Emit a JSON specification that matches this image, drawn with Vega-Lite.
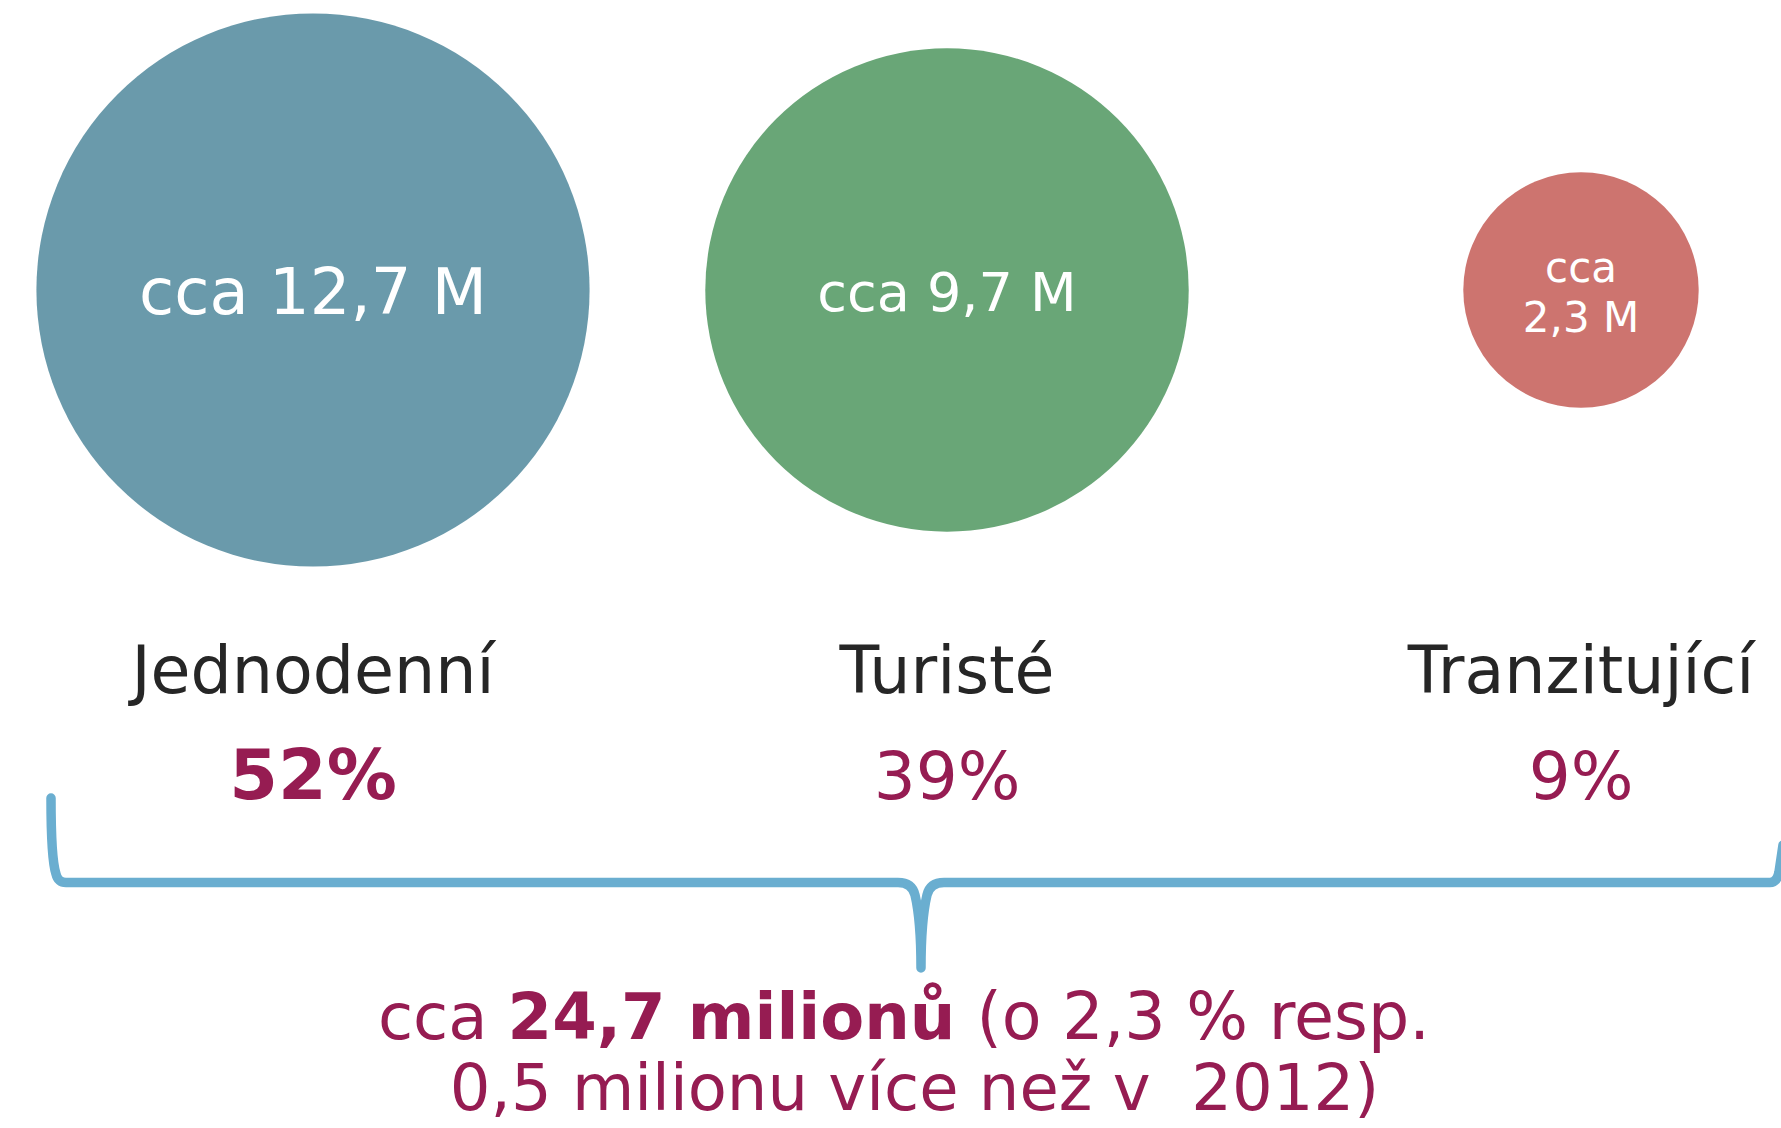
{
  "$schema": "https://vega.github.io/schema/vega-lite/v6.json",
  "width": 1781,
  "height": 1128,
  "autosize": {"type": "none"},
  "padding": 0,
  "background": "white",
  "config": {"view": {"stroke": null}, "font": "DejaVu Sans"},
  "datasets": {
    "kategorie": [
      {"kategorie": "Jednodenní", "mil": 12.7, "popisek": ["cca 12,7 M"], "podil": "52%"},
      {"kategorie": "Turisté", "mil": 9.7, "popisek": ["cca 9,7 M"], "podil": "39%"},
      {"kategorie": "Tranzitující", "mil": 2.3, "popisek": ["cca", "2,3 M"], "podil": "9%"}
    ],
    "celkem": [
      {"cca": "cca", "celkem": "24,7 milionů", "zbytek": "(o 2,3 % resp.", "radek2": "0,5 milionu více než v\u00a0 2012)"}
    ]
  },
  "layer": [
    {
      "data": {"name": "kategorie"},
      "mark": {"type": "point", "shape": "circle", "filled": true, "opacity": 1, "strokeWidth": 0, "yOffset": -274},
      "encoding": {
        "x": {"field": "kategorie", "type": "nominal", "axis": null, "scale": {"type": "point", "domain": ["Jednodenní", "Turisté", "Tranzitující"], "range": [313, 1581], "padding": 0}},
        "size": {"field": "mil", "type": "quantitative", "legend": null, "scale": {"domain": [0, 12.7], "range": [0, 306000], "zero": true}},
        "color": {"field": "kategorie", "type": "nominal", "legend": null, "scale": {"domain": ["Jednodenní", "Turisté", "Tranzitující"], "range": ["#6a9aab", "#69a677", "#cd746f"]}}
      }
    },
    {
      "data": {"name": "kategorie"},
      "transform": [{"filter": "datum.kategorie !== 'Tranzitující'"}],
      "mark": {"type": "text", "color": "#ffffff", "align": "center", "baseline": "middle", "dy": -269, "lineHeight": 50, "font": "DejaVu Sans"},
      "encoding": {
        "x": {"field": "kategorie", "type": "nominal", "axis": null, "scale": {"type": "point", "domain": ["Jednodenní", "Turisté", "Tranzitující"], "range": [313, 1581], "padding": 0}},
        "text": {"field": "popisek", "type": "nominal"},
        "size": {"field": "mil", "type": "quantitative", "legend": null, "scale": {"type": "threshold", "domain": [5, 11], "range": [42, 54, 64]}}
      }
    },
    {
      "data": {"name": "kategorie"},
      "transform": [{"filter": "datum.kategorie === 'Tranzitující'"}],
      "mark": {"type": "text", "color": "#ffffff", "align": "center", "baseline": "middle", "dy": -295, "lineHeight": 50, "font": "DejaVu Sans"},
      "encoding": {
        "x": {"field": "kategorie", "type": "nominal", "axis": null, "scale": {"type": "point", "domain": ["Jednodenní", "Turisté", "Tranzitující"], "range": [313, 1581], "padding": 0}},
        "text": {"field": "popisek", "type": "nominal"},
        "size": {"field": "mil", "type": "quantitative", "legend": null, "scale": {"type": "threshold", "domain": [5, 11], "range": [42, 54, 64]}}
      }
    },
    {
      "data": {"name": "kategorie"},
      "mark": {"type": "text", "color": "#262626", "align": "center", "baseline": "alphabetic", "dy": 129, "fontSize": 65, "font": "DejaVu Sans"},
      "encoding": {
        "x": {"field": "kategorie", "type": "nominal", "axis": null, "scale": {"type": "point", "domain": ["Jednodenní", "Turisté", "Tranzitující"], "range": [313, 1581], "padding": 0}},
        "text": {"field": "kategorie", "type": "nominal"}
      }
    },
    {
      "data": {"name": "kategorie"},
      "transform": [{"filter": "datum.kategorie === 'Jednodenní'"}],
      "mark": {"type": "text", "color": "#961c52", "align": "center", "baseline": "alphabetic", "dy": 235, "fontSize": 70, "fontWeight": "bold", "font": "DejaVu Sans"},
      "encoding": {
        "x": {"field": "kategorie", "type": "nominal", "axis": null, "scale": {"type": "point", "domain": ["Jednodenní", "Turisté", "Tranzitující"], "range": [313, 1581], "padding": 0}},
        "text": {"field": "podil", "type": "nominal"}
      }
    },
    {
      "data": {"name": "kategorie"},
      "transform": [{"filter": "datum.kategorie !== 'Jednodenní'"}],
      "mark": {"type": "text", "color": "#961c52", "align": "center", "baseline": "alphabetic", "dy": 235, "fontSize": 66, "font": "DejaVu Sans"},
      "encoding": {
        "x": {"field": "kategorie", "type": "nominal", "axis": null, "scale": {"type": "point", "domain": ["Jednodenní", "Turisté", "Tranzitující"], "range": [313, 1581], "padding": 0}},
        "text": {"field": "podil", "type": "nominal"}
      }
    },
    {
      "data": {"name": "celkem"},
      "mark": {"type": "point", "filled": false, "size": 4, "opacity": 1, "stroke": "#6aaed0", "strokeWidth": 9.5, "strokeCap": "round", "strokeJoin": "round",
        "shape": "M -839.5 234 C -839.5 276 -837.5 301 -834.5 310 Q -832.5 318.5 -824.5 318.5 L 7.5 318.5 Q 21.5 318.5 24.5 331 C 28.5 348 30.5 371 30.5 404 C 30.5 371 32.5 348 36.5 331 Q 39.5 318.5 53.5 318.5 L 879.5 318.5 Q 886.5 318.5 888.5 308 L 892.5 281"},
      "encoding": {}
    },
    {
      "data": {"name": "celkem"},
      "mark": {"type": "text", "color": "#961c52", "align": "right", "baseline": "alphabetic", "dx": -403, "dy": 475, "fontSize": 64, "font": "DejaVu Sans"},
      "encoding": {"text": {"field": "cca", "type": "nominal"}}
    },
    {
      "data": {"name": "celkem"},
      "mark": {"type": "text", "color": "#961c52", "align": "center", "baseline": "alphabetic", "dx": -159, "dy": 475, "fontSize": 64, "fontWeight": "bold", "font": "DejaVu Sans"},
      "encoding": {"text": {"field": "celkem", "type": "nominal"}}
    },
    {
      "data": {"name": "celkem"},
      "mark": {"type": "text", "color": "#961c52", "align": "left", "baseline": "alphabetic", "dx": 86, "dy": 475, "fontSize": 65, "font": "DejaVu Sans"},
      "encoding": {"text": {"field": "zbytek", "type": "nominal"}}
    },
    {
      "data": {"name": "celkem"},
      "mark": {"type": "text", "color": "#961c52", "align": "center", "baseline": "alphabetic", "dx": 24, "dy": 546, "fontSize": 64, "font": "DejaVu Sans"},
      "encoding": {"text": {"field": "radek2", "type": "nominal"}}
    }
  ]
}
